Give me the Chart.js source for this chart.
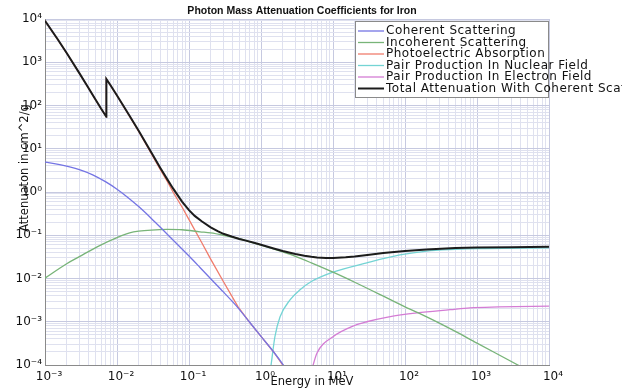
<!DOCTYPE html>
<html>
<head>
<meta charset="utf-8">
<script src="https://cdn.jsdelivr.net/npm/chart.js@4/dist/chart.umd.min.js"></script>
<style>
    html, body { margin: 0; padding: 0; background: #fff; }
    #wrap { width: 622px; height: 391px; }
</style>
</head>
<body>
<div id="wrap"><canvas id="chart" width="622" height="391"></canvas></div>
<script>
// energies in MeV, values in cm^2/g
const cohE = [0.001, 0.0016, 0.003, 0.0046, 0.007, 0.01, 0.014, 0.02, 0.03, 0.04, 0.066, 0.1, 0.142, 0.2, 0.3, 0.48, 0.7, 1, 1.5, 2, 2.5];
const cohV = [4.9, 4.3, 3.3, 2.5, 1.71, 1.16, 0.76, 0.46, 0.245, 0.153, 0.066, 0.033, 0.018, 0.0099, 0.0049, 0.0021, 0.00096, 0.00046, 0.0002, 0.000105, 0.00006];

const incE = [0.001, 0.002, 0.003, 0.0053, 0.01, 0.015, 0.02, 0.03, 0.05, 0.08, 0.142, 0.2, 0.3, 0.5, 0.8, 1, 2, 3, 5, 10, 20, 50, 100, 200, 500, 1000, 3700, 10000];
const incV = [0.0102, 0.022, 0.032, 0.054, 0.088, 0.113, 0.124, 0.132, 0.136, 0.134, 0.12, 0.113, 0.1, 0.083, 0.066, 0.059, 0.041, 0.0325, 0.023, 0.014, 0.0082, 0.0039, 0.0022, 0.0013, 0.0006, 0.00032, 0.0001, 0.00004];

const photoE = [0.001, 0.0015, 0.002, 0.003, 0.004, 0.005, 0.006, 0.00711, 0.00712, 0.008, 0.01, 0.015, 0.02, 0.03, 0.04, 0.05, 0.06, 0.08, 0.1, 0.15, 0.2, 0.3, 0.48, 0.7, 1, 1.5, 2, 2.5];
const photoV = [9080, 3395, 1622, 556, 256, 139, 84, 54.5, 405, 303, 168, 56, 25, 7.7, 3.3, 1.75, 1.0, 0.45, 0.23, 0.068, 0.028, 0.0085, 0.0022, 0.00095, 0.00046, 0.0002, 0.0001, 0.00006];

const pairNucE = [1.3, 1.38, 1.56, 1.84, 2.53, 3.45, 5, 10, 29.5, 85, 200, 500, 1000, 10000];
const pairNucV = [0.00005, 0.0001, 0.00045, 0.0013, 0.0032, 0.0054, 0.0085, 0.014, 0.023, 0.035, 0.043, 0.047, 0.049, 0.051];

const pairElE = [4.8, 5.3, 6, 10, 20, 29.5, 60, 147, 422, 800, 2000, 10000];
const pairElV = [0.00005, 0.0001, 0.00019, 0.00045, 0.00082, 0.001, 0.0013, 0.0016, 0.0019, 0.0021, 0.0022, 0.0023];

const totalE = [0.001, 0.0015, 0.002, 0.003, 0.004, 0.005, 0.006, 0.00711, 0.00712, 0.008, 0.01, 0.015, 0.02, 0.03, 0.04, 0.05, 0.06, 0.08, 0.1, 0.12, 0.15, 0.2, 0.25, 0.3, 0.4, 0.5, 0.6, 0.8, 1, 1.5, 2, 3, 4, 5, 6, 8, 10, 15, 20, 30, 50, 100, 200, 500, 1000, 3000, 10000];
const totalV = [9100, 3400, 1630, 560, 257, 140, 85, 55, 410, 305, 170, 57, 26, 8.2, 3.6, 1.96, 1.21, 0.6, 0.38, 0.28, 0.21, 0.152, 0.124, 0.108, 0.092, 0.082, 0.076, 0.067, 0.0605, 0.0495, 0.0432, 0.0368, 0.0336, 0.0317, 0.0306, 0.0297, 0.0297, 0.0308, 0.0322, 0.035, 0.039, 0.043, 0.047, 0.051, 0.052, 0.053, 0.054];

const seriesLabels = [
    "Coherent Scattering",
    "Incoherent Scattering",
    "Photoelectric Absorption",
    "Pair Production In Nuclear Field",
    "Pair Production In Electron Field",
    "Total Attenuation With Coherent Scattering"
];
const seriesColors = ["#7474e4", "#78b478", "#f07c6c", "#74d4d4", "#d47cd4", "#1c1c1c"];

const xDecades = [-3, -2, -1, 0, 1, 2, 3, 4];
const yDecades = [-4, -3, -2, -1, 0, 1, 2, 3, 4];

const SUP = { "-": "\u207B", "0": "\u2070", "1": "\u00B9", "2": "\u00B2", "3": "\u00B3", "4": "\u2074" };
const supText = n => String(n).split("").map(c => SUP[c]).join("");

const pairs = (xs, ys) => xs.map((x, i) => ({ x, y: ys[i] }));

const isDecade = v => Math.abs(Math.log10(v) - Math.round(Math.log10(v))) < 1e-9;

// 1..9 x 10^k for every decade
function logTicks(decades) {
    const out = [];
    for (let i = 0; i < decades.length; i++) {
        const k = decades[i];
        if (i === decades.length - 1) { out.push({ value: Math.pow(10, k) }); break; }
        for (let m = 1; m < 10; m++) out.push({ value: Number((m * Math.pow(10, k)).toPrecision(10)) });
    }
    return out;
}

const gridColor = c => c.tick && isDecade(c.tick.value) ? "#c6c9e0" : "#dfe1ef";

const decorations = {
    id: "decorations",
    afterDraw(chart) {
        const { ctx, chartArea } = chart;
        ctx.save();
        ctx.fillStyle = "#111";

        // title
        ctx.font = "bold 10.5px 'Liberation Sans', Arial, sans-serif";
        ctx.textAlign = "center";
        ctx.textBaseline = "middle";
        ctx.fillText("Photon Mass Attenuation Coefficients for Iron", 302, 11);

        // axis titles
        ctx.font = "11.5px 'DejaVu Sans', sans-serif";
        ctx.fillText("Energy in MeV", 312, 382);
        ctx.save();
        ctx.translate(25, 168);
        ctx.rotate(-Math.PI / 2);
        ctx.fillText("Attenuaton in cm^2/g", 0, 0);
        ctx.restore();

        // legend box
        const bx = 355, by = 21, bw = chartArea.right - 1 - bx, bh = 76;
        ctx.fillStyle = "#fff";
        ctx.fillRect(bx, by, bw, bh);
        ctx.strokeStyle = "#8a8a8a";
        ctx.lineWidth = 1;
        ctx.strokeRect(bx + 0.5, by + 0.5, bw, bh);

        ctx.textAlign = "left";
        ctx.font = "12px 'DejaVu Sans', sans-serif";
        ctx.letterSpacing = "0.5px";
        seriesLabels.forEach((label, i) => {
            const y = 31 + i * 11.5;
            ctx.strokeStyle = seriesColors[i];
            ctx.lineWidth = i === 5 ? 2 : 1.3;
            ctx.beginPath();
            ctx.moveTo(358, y);
            ctx.lineTo(384, y);
            ctx.stroke();
            ctx.fillStyle = "#111";
            ctx.fillText(label, 386, y);
        });
        ctx.restore();
    }
};

// photoelectric and total have the K edge, keep them straight-segmented
const datasets = [
    [cohE, cohV], [incE, incV], [photoE, photoV], [pairNucE, pairNucV], [pairElE, pairElV], [totalE, totalV]
].map(([xs, ys], i) => ({
    label: seriesLabels[i],
    data: pairs(xs, ys),
    borderColor: seriesColors[i],
    backgroundColor: seriesColors[i],
    borderWidth: i === 5 ? 2 : 1.3,
    pointRadius: 0,
    tension: 0,
    cubicInterpolationMode: (i === 2 || i === 5) ? "default" : "monotone",
    order: i === 5 ? -1 : i
}));

new Chart(document.getElementById("chart").getContext("2d"), {
    type: "line",
    data: { datasets },
    options: {
        responsive: false,
        animation: false,
        layout: { padding: { top: 19, right: 73, bottom: 0, left: 0 } },
        plugins: {
            legend: { display: false },
            title: { display: false },
            tooltip: { enabled: false }
        },
        scales: {
            x: {
                type: "logarithmic",
                min: 0.001,
                max: 10000,
                afterFit: s => { s.height = 26; },
                afterBuildTicks: s => { s.ticks = logTicks(xDecades); },
                grid: { color: gridColor, drawTicks: false },
                border: { color: "#8a8a8a" },
                ticks: {
                    autoSkip: false,
                    maxRotation: 0,
                    padding: 5,
                    labelOffset: 4,
                    color: "#111",
                    font: { family: "'DejaVu Sans', sans-serif", size: 12 },
                    callback: v => isDecade(v) ? "10" + supText(Math.round(Math.log10(v))) : ""
                }
            },
            y: {
                type: "logarithmic",
                min: 0.0001,
                max: 10000,
                afterFit: s => { s.width = 45; },
                afterBuildTicks: s => { s.ticks = logTicks(yDecades); },
                grid: { color: gridColor, drawTicks: false },
                border: { color: "#8a8a8a" },
                ticks: {
                    autoSkip: false,
                    padding: 3,
                    color: "#111",
                    font: { family: "'DejaVu Sans', sans-serif", size: 12 },
                    callback: v => isDecade(v) ? "10" + supText(Math.round(Math.log10(v))) : ""
                }
            }
        }
    },
    plugins: [decorations]
});
</script>
</body>
</html>
